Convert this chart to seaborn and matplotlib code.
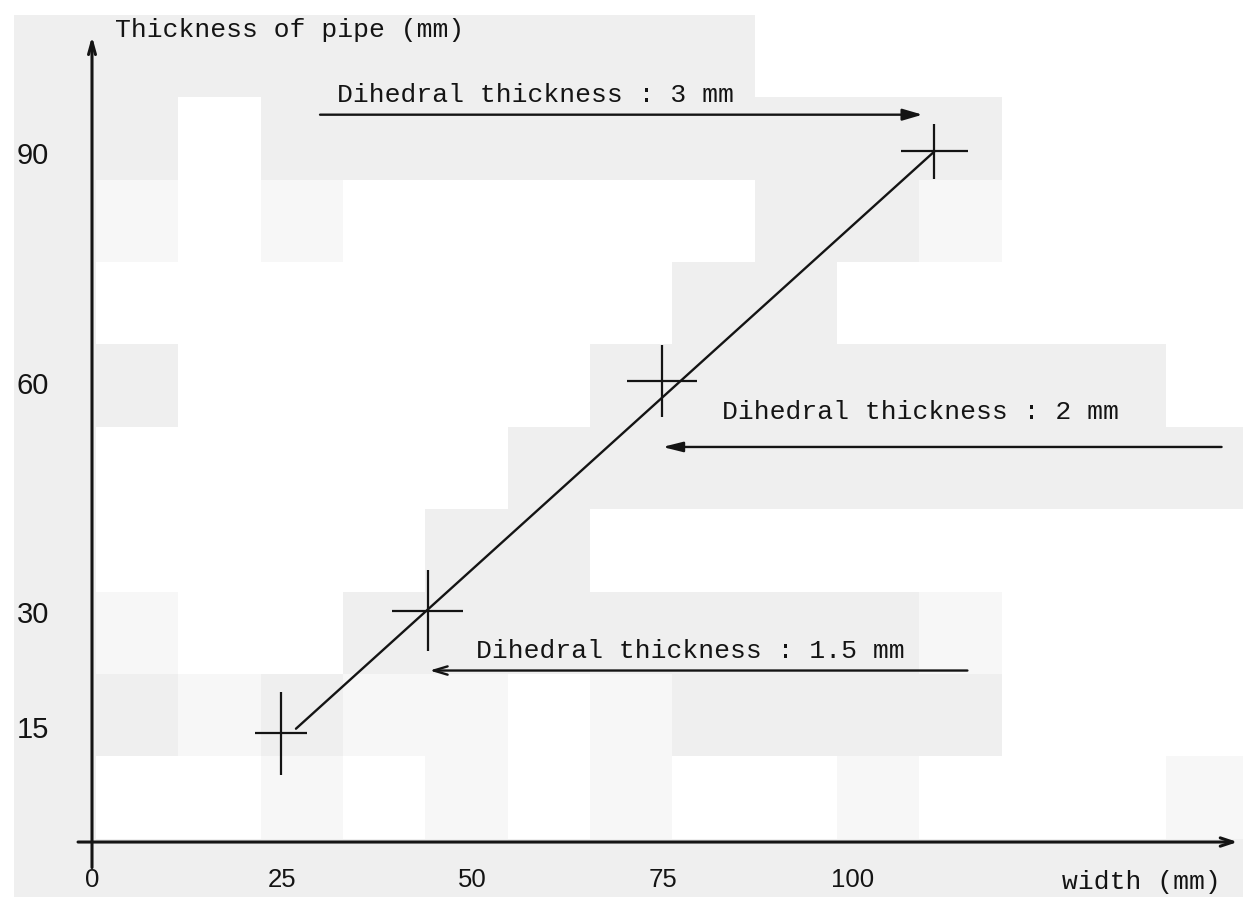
import numpy as np
import pandas as pd
import matplotlib
matplotlib.use("Agg")
import matplotlib.pyplot as plt
from matplotlib.colors import ListedColormap
import seaborn as sns

# measured points (width, thickness) with their uncertainty crosses
width_mm = [24.8, 44.1, 74.9, 110.7]
thickness_mm = [14.2, 30.2, 60.2, 90.2]
width_err = [3.4, 4.7, 4.6, 4.4]
thickness_err = [5.4, 5.3, 4.7, 3.6]

# straight fitted line drawn through the points
fit_width = [26.8, 110.7]
fit_thickness = [14.8, 90.2]

x_ticks = [0, 25, 50, 75, 100]
y_ticks = [15, 30, 60, 90]

labels = ["Dihedral thickness : 3 mm",
          "Dihedral thickness : 2 mm",
          "Dihedral thickness : 1.5 mm"]

# scan background: 0 white, 1 grey, 2 light grey blocks
scan_blocks = [
    [1, 1, 1, 1, 1, 1, 1, 1, 1, 0, 0, 0, 0, 0, 0],
    [1, 1, 0, 1, 1, 1, 1, 1, 1, 1, 1, 1, 0, 0, 0],
    [1, 2, 0, 2, 0, 0, 0, 0, 0, 1, 1, 2, 0, 0, 0],
    [1, 0, 0, 0, 0, 0, 0, 0, 1, 1, 0, 0, 0, 0, 0],
    [1, 1, 0, 0, 0, 0, 0, 1, 1, 1, 1, 1, 1, 1, 0],
    [1, 0, 0, 0, 0, 0, 1, 1, 1, 1, 1, 1, 1, 1, 1],
    [1, 0, 0, 0, 0, 1, 1, 0, 0, 0, 0, 0, 0, 0, 0],
    [1, 2, 0, 0, 1, 1, 1, 1, 1, 1, 1, 2, 0, 0, 0],
    [1, 1, 2, 1, 2, 2, 0, 2, 1, 1, 1, 1, 0, 0, 0],
    [1, 0, 0, 2, 0, 2, 0, 2, 0, 0, 2, 0, 0, 0, 2],
    [1, 1, 1, 1, 1, 1, 1, 1, 1, 1, 1, 1, 1, 1, 1],
]

sns.set_style("white")
plt.rcParams["font.family"] = ["Liberation Mono", "DejaVu Sans Mono"]

ink = "#141414"
mono = 19

fig = plt.figure(figsize=(12.43, 8.97), dpi=100)

# background texture in pixel space
bg = fig.add_axes([0, 0, 1, 1])
bg.imshow(np.array(scan_blocks), cmap=ListedColormap(["#ffffff", "#efefef", "#f7f7f7"]),
          vmin=0, vmax=2, interpolation="nearest", aspect="auto",
          extent=(14, 14 + 15 * 82.3, 16 + 11 * 82.3, 16))
bg.set_xlim(0, 1243)
bg.set_ylim(897, 0)
bg.axis("off")

ax = fig.add_axes([0, 0, 1, 1])
ax.set_facecolor("none")
ax.set_xlim(-12.09, 151.25)
ax.set_ylim(-7.18, 109.98)

fit = pd.DataFrame({"width": fit_width, "thickness": fit_thickness})
sns.lineplot(data=fit, x="width", y="thickness", ax=ax, color=ink, linewidth=1.7)

ax.errorbar(width_mm, thickness_mm, xerr=width_err, yerr=thickness_err,
            fmt="none", ecolor=ink, elinewidth=1.6, capsize=0)

# axes drawn as arrows
ax.annotate("", xy=(150.9, 0), xytext=(-2.2, 0),
            arrowprops=dict(arrowstyle="->,head_length=0.9,head_width=0.3", color=ink, lw=2.2))
ax.annotate("", xy=(0, 105.6), xytext=(0, -3.7),
            arrowprops=dict(arrowstyle="->,head_length=0.9,head_width=0.25", color=ink, lw=2.2))

for side in ["top", "right", "left", "bottom"]:
    ax.spines[side].set_visible(False)
ax.spines["left"].set_position(("data", 0))
ax.spines["bottom"].set_position(("data", 0))

ax.set_xticks(x_ticks)
ax.set_xticklabels([str(v) for v in x_ticks])
ax.set_yticks(y_ticks)
ax.set_yticklabels([str(v) for v in y_ticks])
ax.tick_params(axis="x", direction="inout", length=13, width=2, color=ink, pad=12,
               labelsize=18.5, labelcolor=ink)
ax.tick_params(axis="y", direction="inout", length=16, width=2, color=ink, pad=23,
               labelsize=21, labelcolor=ink)
for lab in ax.get_xticklabels() + ax.get_yticklabels():
    lab.set_family(["Liberation Sans", "DejaVu Sans"])
ax.set_xlabel("")
ax.set_ylabel("")

# annotation arrows
ax.annotate("", xy=(109.5, 95.0), xytext=(29.6, 95.0),
            arrowprops=dict(arrowstyle="-|>,head_length=1.2,head_width=0.35", color=ink, lw=1.7))
ax.annotate("", xy=(74.6, 51.6), xytext=(148.8, 51.6),
            arrowprops=dict(arrowstyle="-|>,head_length=1.2,head_width=0.3", color=ink, lw=1.7))
ax.annotate("", xy=(44.0, 22.4), xytext=(115.4, 22.4),
            arrowprops=dict(arrowstyle="->,head_length=1.0,head_width=0.3", color=ink, lw=1.7))

ax.text(32.2, 97.6, labels[0], fontsize=mono, color=ink, va="center", ha="left")
ax.text(82.8, 56.2, labels[1], fontsize=mono, color=ink, va="center", ha="left")
ax.text(50.5, 24.9, labels[2], fontsize=mono, color=ink, va="center", ha="left")

ax.text(3.0, 106.1, "Thickness of pipe (mm)", fontsize=mono, color=ink, va="center", ha="left")
ax.text(127.5, -5.2, "width (mm)", fontsize=mono, color=ink, va="center", ha="left")

fig.savefig("out.png", dpi=100)
